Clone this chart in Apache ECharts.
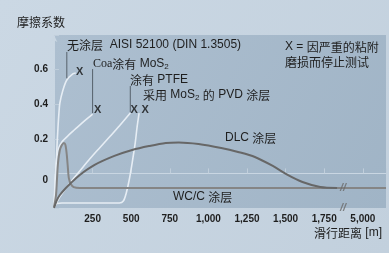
<!DOCTYPE html>
<html><head><meta charset="utf-8">
<script src="https://cdn.jsdelivr.net/npm/echarts@6/dist/echarts.min.js"></script>
<style>html,body{margin:0;padding:0;background:#c7d5e2;}#c{width:389px;height:253px;}</style>
</head><body><div id="c"></div>
<script>
// tick labels
const xTickValues = [250, 500, 750, 1000, 1250, 1500, 1750, 2000];
const xTickLabels = ['250', '500', '750', '1,000', '1,250', '1,500', '1,750', '5,000'];
const yTickValues = [0, 0.2, 0.4, 0.6];
const yTickLabels = ['0', '0.2', '0.4', '0.6'];
// series (sliding distance [m] on the compressed axis, friction coefficient)
const uncoated = [[0,-0.2],[6,-0.1],[13,0.03],[19,0.15],[26,0.268],[32,0.35],[38,0.407],[58,0.482],[83,0.54],[122,0.575],[141,0.58]];
const coaMoS2 = [[0,-0.2],[6,-0.067],[13,0.049],[26,0.136],[51,0.182],[103,0.228],[154,0.269],[205,0.309],[250,0.343]];
const ptfe = [[0,-0.2],[13,-0.177],[38,-0.136],[103,-0.055],[167,0.014],[231,0.083],[295,0.147],[359,0.21],[423,0.274],[494,0.349]];
const pvdMoS2 = [[0,-0.2],[6,-0.183],[19,-0.174],[51,-0.171],[359,-0.171],[423,-0.171],[449,-0.16],[468,-0.113],[487,-0.038],[506,0.06],[526,0.176],[538,0.268],[551,0.349]];
const dlc = [[0,-0.2],[19,-0.154],[38,-0.125],[71,-0.09],[103,-0.061],[167,-0.009],[263,0.049],[391,0.101],[506,0.135],[615,0.158],[724,0.176],[808,0.179],[936,0.17],[1083,0.147],[1192,0.124],[1301,0.095],[1417,0.043],[1513,-0.009],[1609,-0.05],[1724,-0.079],[1833,-0.084]];
const wcc = [[0,-0.194],[13,-0.125],[19,-0.038],[26,0.06],[38,0.135],[51,0.164],[64,0.176],[74,0.164],[83,0.106],[90,0.031],[96,-0.027],[109,-0.061],[128,-0.079],[167,-0.084],[2150,-0.084]];
// test stopped (X) points
const stopPoints = [[167,0.586],[282,0.366],[519,0.366],[590,0.366]];
// leader lines
const leaders = [
  [[83,0.702],[83,0.55]],
  [[250,0.603],[250,0.349]],
  [[494,0.505],[494,0.355]]
];
const breakPoints = [[1872,-0.084],[1872,-0.2]];

const chart = echarts.init(document.getElementById('c'));
const lightLine = {color:'#e6edf4', width:1.6};
const FONT = '"Liberation Sans", Arial, sans-serif';
const CJK = '"Noto Sans CJK SC", sans-serif';
const rich = {
  l:{fontFamily:FONT, fontSize:12, color:'#1e1e1e', lineHeight:14},
  c:{fontFamily:CJK, fontSize:12, color:'#4a4a4a', lineHeight:14},
  r:{fontFamily:'"Liberation Serif", serif', fontSize:12, color:'#3c3c3c', lineHeight:14},
  s:{fontFamily:FONT, fontSize:8, color:'#1e1e1e', padding:[6,0,0,0], lineHeight:8}
};
function txt(x, y, text, align){
  return {type:'text', x:x, y:y, style:{text:text, rich:rich, align:align||'left', verticalAlign:'middle', font:'12px '+FONT, fill:'#1e1e1e'}, z:10};
}
const leaderSeries = leaders.map(d => ({type:'line', data:d, symbol:'none', lineStyle:{color:'#56606b', width:1}, z:3, silent:true}));
const curve = (d, ls, z) => ({type:'line', data:d, symbol:'none', smooth:0.3, lineStyle:ls, z:z||2, clip:true});

chart.setOption({
  animation:false,
  backgroundColor:{type:'linear',x:0,y:0,x2:1,y2:1,colorStops:[{offset:0,color:'#cbd8e4'},{offset:1,color:'#c2d0dd'}]},
  grid:{left:54, right:0, top:35, bottom:45, show:true, borderWidth:0,
    backgroundColor:{type:'linear',x:0,y:0,x2:1,y2:1,colorStops:[{offset:0,color:'#adbfd0'},{offset:1,color:'#a0b4c6'}]}},
  xAxis:{type:'value', min:0, max:2150, interval:250,
    axisLine:{show:true, lineStyle:{color:'#c9d6e2', width:1}},
    axisTick:{show:true, inside:true, length:5, lineStyle:{color:'#c0cedb'}},
    splitLine:{show:false},
    axisLabel:{margin:6, fontFamily:FONT, fontSize:10, fontWeight:'bold', color:'#1e1e1e',
      formatter:v => { const i = xTickValues.findIndex(t => Math.abs(t - v) < 1e-6); return i >= 0 ? xTickLabels[i] : ''; }}},
  yAxis:{type:'value', min:-0.2, max:0.8, interval:0.2,
    axisLine:{show:true, symbol:['none','arrow'], symbolSize:[5,7], lineStyle:{color:'#c9d6e2', width:1}},
    axisTick:{show:true, inside:true, length:5, lineStyle:{color:'#c0cedb'}},
    splitLine:{show:false},
    axisLabel:{margin:6, fontFamily:FONT, fontSize:10, fontWeight:'bold', color:'#1e1e1e',
      rich:{z:{fontFamily:FONT, fontSize:10, fontWeight:'bold', color:'#1e1e1e', padding:[13,0,0,0]}},
      formatter:v => { const i = yTickValues.findIndex(t => Math.abs(t - v) < 1e-6); if (i < 0) return ''; return i === 0 ? '{z|' + yTickLabels[i] + '}' : yTickLabels[i]; }}},
  series:[
    curve(uncoated, lightLine),
    curve(coaMoS2, lightLine),
    curve(ptfe, lightLine),
    curve(pvdMoS2, lightLine),
    curve(wcc, {color:'#858585', width:2}, 4),
    curve(dlc, {color:'#676767', width:2}, 5),
    ...leaderSeries,
    {type:'scatter', data:stopPoints, symbolSize:0, z:6,
      label:{show:true, position:'inside', formatter:'X', fontFamily:FONT, fontSize:11, fontWeight:'bold', color:'#111'}},
    {type:'scatter', data:breakPoints, symbolSize:0, z:7,
      label:{show:true, position:'inside', formatter:'//', fontFamily:FONT, fontSize:11, fontWeight:'bold', fontStyle:'italic', color:'#6a6a6a'}}
  ],
  graphic:[
    txt(17, 22, '{c|摩擦系数}'),
    txt(67, 45, '{c|无涂层}{l|  AISI 52100 (DIN 1.3505)}'),
    txt(93, 64, '{r|Coa}{c|涂有}{l| MoS}{s|2}'),
    txt(130, 80, '{c|涂有}{l| PTFE}'),
    txt(143, 95, '{c|采用}{l| MoS}{s|2}{l| }{c|的}{l| PVD }{c|涂层}'),
    txt(285, 47, '{l|X = }{c|因严重的粘附}'),
    txt(285, 62, '{c|磨损而停止测试}'),
    txt(225, 138, '{l|DLC }{c|涂层}'),
    txt(173, 197, '{l|WC/C }{c|涂层}'),
    txt(382, 233, '{c|滑行距离}{l| [m]}', 'right')
  ]
});
</script></body></html>
